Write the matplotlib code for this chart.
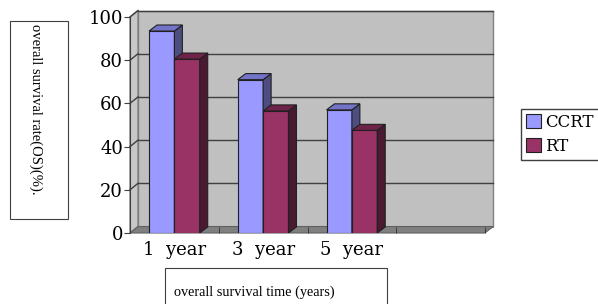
import matplotlib.pyplot as plt
from matplotlib.patches import Polygon, Rectangle

categories = ["1  year", "3  year", "5  year", ""]
ccrt = [93.5, 71, 57]
rt = [80.5, 56.5, 47.5]
series_names = ["CCRT", "RT"]

W, H = 598, 304
fig = plt.figure(figsize=(W / 100, H / 100), dpi=100)
ax = fig.add_axes([130 / W, 71 / H, 355 / W, 216 / H])
ax.set_xlim(-0.5, len(categories) - 0.5)
ax.set_ylim(0, 100)

serif = "DejaVu Serif"
dxw, dyw = 0.09, 3.0   # wall depth (data units)
dxb, dyb = 0.09, 2.8   # bar depth
x0, x1 = -0.5, len(categories) - 0.5

# walls and floor
ax.add_patch(Polygon([(x0 + dxw, dyw), (x1 + dxw, dyw), (x1 + dxw, 100 + dyw), (x0 + dxw, 100 + dyw)],
                     closed=True, facecolor="#c0c0c0", edgecolor="#808080", lw=1, clip_on=False, zorder=0))
ax.add_patch(Polygon([(x0, 0), (x0 + dxw, dyw), (x0 + dxw, 100 + dyw), (x0, 100)],
                     closed=True, facecolor="#c8c8c8", edgecolor="#808080", lw=1, clip_on=False, zorder=0.5))
ax.add_patch(Polygon([(x0, 0), (x1, 0), (x1 + dxw, dyw), (x0 + dxw, dyw)],
                     closed=True, facecolor="#808080", edgecolor="#606060", lw=0.8, clip_on=False, zorder=0.6))
for v in range(20, 101, 20):
    ax.plot([x0 + dxw, x1 + dxw], [v + dyw, v + dyw], color="#404040", lw=1, zorder=1, clip_on=False)
    ax.plot([x0, x0 + dxw], [v, v + dyw], color="#404040", lw=1, zorder=1, clip_on=False)

# bars
w = 1 / 3.5
styles = [("#9999ff", "#4d4d80", "#7373c8"), ("#993366", "#4a1a33", "#6e2448")]
for i in range(len(ccrt)):
    for k, vals in enumerate([ccrt, rt]):
        front, side, top = styles[k]
        left = i - w + k * w
        v = vals[i]
        z = 3 + i * 3 + k
        ax.bar(left, v, width=w, align="edge", color=front, edgecolor="#202020", lw=0.8, zorder=z)
        ax.add_patch(Polygon([(left + w, 0), (left + w + dxb, dyb), (left + w + dxb, v + dyb), (left + w, v)],
                             closed=True, facecolor=side, edgecolor="#202020", lw=0.8, zorder=z))
        ax.add_patch(Polygon([(left, v), (left + w, v), (left + w + dxb, v + dyb), (left + dxb, v + dyb)],
                             closed=True, facecolor=top, edgecolor="#202020", lw=0.8, zorder=z))

for s in ["top", "right", "bottom"]:
    ax.spines[s].set_visible(False)
ax.spines["left"].set_color("#404040")
ax.spines["left"].set_zorder(2)
ax.set_yticks(range(0, 101, 20))
ax.tick_params(axis="y", length=4, width=0.8, color="#404040", pad=1, labelsize=13)
ax.set_xticks(range(len(categories)))
ax.set_xticklabels(categories)
ax.set_xticks([i + 0.5 for i in range(len(categories))], minor=True)
ax.tick_params(axis="x", which="major", length=0, pad=6, labelsize=13)
ax.tick_params(axis="x", which="minor", length=4, direction="in", color="#303030")
for lab in ax.get_xticklabels() + ax.get_yticklabels():
    lab.set_fontfamily(serif)

# axis title boxes
fig.patches.append(Rectangle((10 / W, 1 - 219 / H), 58 / W, 198 / H, transform=fig.transFigure,
                             facecolor="white", edgecolor="#404040", lw=0.8))
fig.text(36 / W, 1 - 24 / H, "overall survival rate(OS)(%).", rotation=-90, ha="center", va="top",
         family="Liberation Serif", fontsize=10.5)
fig.patches.append(Rectangle((165 / W, -10 / H), 222 / W, 46 / H, transform=fig.transFigure,
                             facecolor="white", edgecolor="#404040", lw=0.8))
fig.text(174 / W, 1 - 292 / H, "overall survival time (years)", ha="left", va="center",
         family="Liberation Serif", fontsize=10.3)

# legend
handles = [Rectangle((0, 0), 1, 1, facecolor=styles[k][0], edgecolor="#202020", lw=0.8) for k in range(2)]
fig.legend(handles, series_names, loc="upper left", bbox_to_anchor=(521 / W, 1 - 109 / H),
           borderaxespad=0, fancybox=False, edgecolor="#404040", framealpha=1,
           prop={"family": serif, "size": 12}, handlelength=0.9, handleheight=0.9,
           handletextpad=0.25, labelspacing=0.4, borderpad=0.3)

fig.savefig("out.png", dpi=100)
